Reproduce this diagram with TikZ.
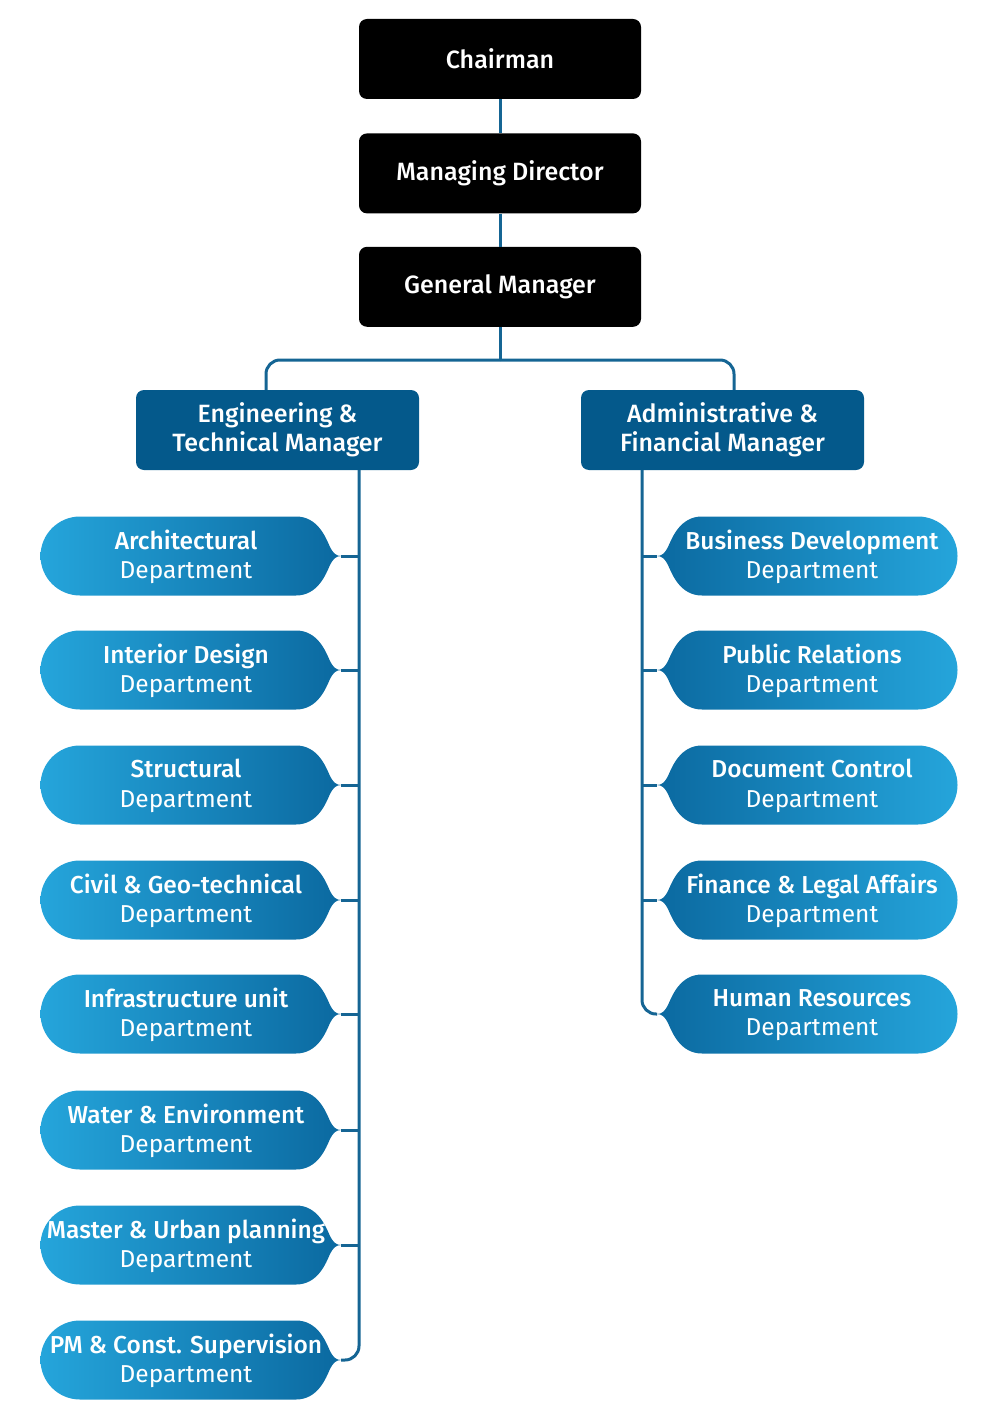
\documentclass[tikz,border=0pt]{standalone}
\usepackage{fontspec}
\setmainfont{Fira Sans}[BoldFont={Fira Sans Medium}]
\usetikzlibrary{positioning}

\definecolor{mgrBlue}{HTML}{04598B}
\definecolor{linkBlue}{HTML}{156594}
\definecolor{pillLight}{HTML}{25A5DB}
\definecolor{pillDark}{HTML}{0B69A0}

% pill with a pointed end, centre height #1
\newcommand{\pillshape}[3]{%
  \shade[left color=#2, right color=#3]
    (80,#1-39.5) -- (296,#1-39.5)
    .. controls (318,#1-39.5) and (326,#1-18) .. (330,#1-9)
    .. controls (333,#1-3) and (336,#1) .. (341,#1)
    .. controls (336,#1) and (333,#1+3) .. (330,#1+9)
    .. controls (326,#1+18) and (318,#1+39.5) .. (296,#1+39.5)
    -- (80,#1+39.5)
    .. controls (58.2,#1+39.5) and (40.5,#1+21.8) .. (40.5,#1)
    .. controls (40.5,#1-21.8) and (58.2,#1-39.5) .. (80,#1-39.5) -- cycle;}

\tikzset{
  topbox/.style={fill=black, text=white, rounded corners=8pt,
    minimum width=282pt, minimum height=80pt, align=center,
    font=\fontsize{25}{29.5}\selectfont\bfseries},
  mgrbox/.style={topbox, fill=mgrBlue, minimum width=283pt},
  dept/.style={text=white, align=center, inner sep=0pt,
    font=\fontsize{24.5}{29.5}\selectfont},
  link/.style={draw=linkBlue, line width=3pt},
}

\begin{document}
\begin{tikzpicture}[x=1pt, y=-1pt]
  \useasboundingbox (0,0) rectangle (1000,1415);

  % top of the chart
  \node[topbox] (chair) at (500,59) {Chairman};
  \node[topbox, below=34pt of chair] (md) {Managing Director};
  \node[topbox, below=33pt of md] (gm) {General Manager};

  \node[mgrbox] (eng) at (277.5,430) {Engineering \&\\Technical Manager};
  \node[mgrbox] (adm) at (722.5,430) {Administrative \&\\Financial Manager};

  \draw[link] (chair) -- (md);
  \draw[link] (md) -- (gm);
  \draw[link] (gm.south) -- ++(0,33) coordinate (split);
  \draw[link, rounded corners=14pt] (split) -| ([xshift=-11.5pt]eng.north);
  \draw[link, rounded corners=14pt] (split) -| ([xshift=11.5pt]adm.north);

  \coordinate (spineL) at ([xshift=81.5pt]eng.south);
  \coordinate (spineR) at ([xshift=-80.5pt]adm.south);

  % engineering side
  \foreach \dname/\dy/\dhead in {arch/556/Architectural,
      inter/670/Interior Design, struc/785/Structural,
      civil/900/Civil \& Geo-technical, infra/1014/Infrastructure unit,
      water/1130/Water \& Environment, urban/1245/Master \& Urban planning,
      pmcs/1360/PM \& Const. Supervision} {
    \pillshape{\dy}{pillLight}{pillDark}
    \node[dept] (\dname) at (186,\dy+1) {{\bfseries\dhead}\\Department};
    \coordinate (\dname tip) at (341,\dy);
  }

  % administrative side
  \begin{scope}[xshift=998pt, xscale=-1]
    \foreach \dy in {556,670,785,900,1014}
      \pillshape{\dy}{pillDark}{pillLight};
  \end{scope}
  \foreach \dname/\dy/\dhead in {busdev/556/Business Development,
      pubrel/670/Public Relations, doccon/785/Document Control,
      finleg/900/Finance \& Legal Affairs, humres/1014/Human Resources} {
    \node[dept] (\dname) at (812,\dy+1) {{\bfseries\dhead}\\Department};
    \coordinate (\dname tip) at (657,\dy);
  }

  \draw[link, rounded corners=14pt] (spineL) |- (pmcstip);
  \foreach \dname in {arch,inter,struc,civil,infra,water,urban}
    \draw[link] (\dname tip) -- (\dname tip -| spineL);

  \draw[link, rounded corners=14pt] (spineR) |- (humrestip);
  \foreach \dname in {busdev,pubrel,doccon,finleg}
    \draw[link] (\dname tip) -- (\dname tip -| spineR);
\end{tikzpicture}
\end{document}
